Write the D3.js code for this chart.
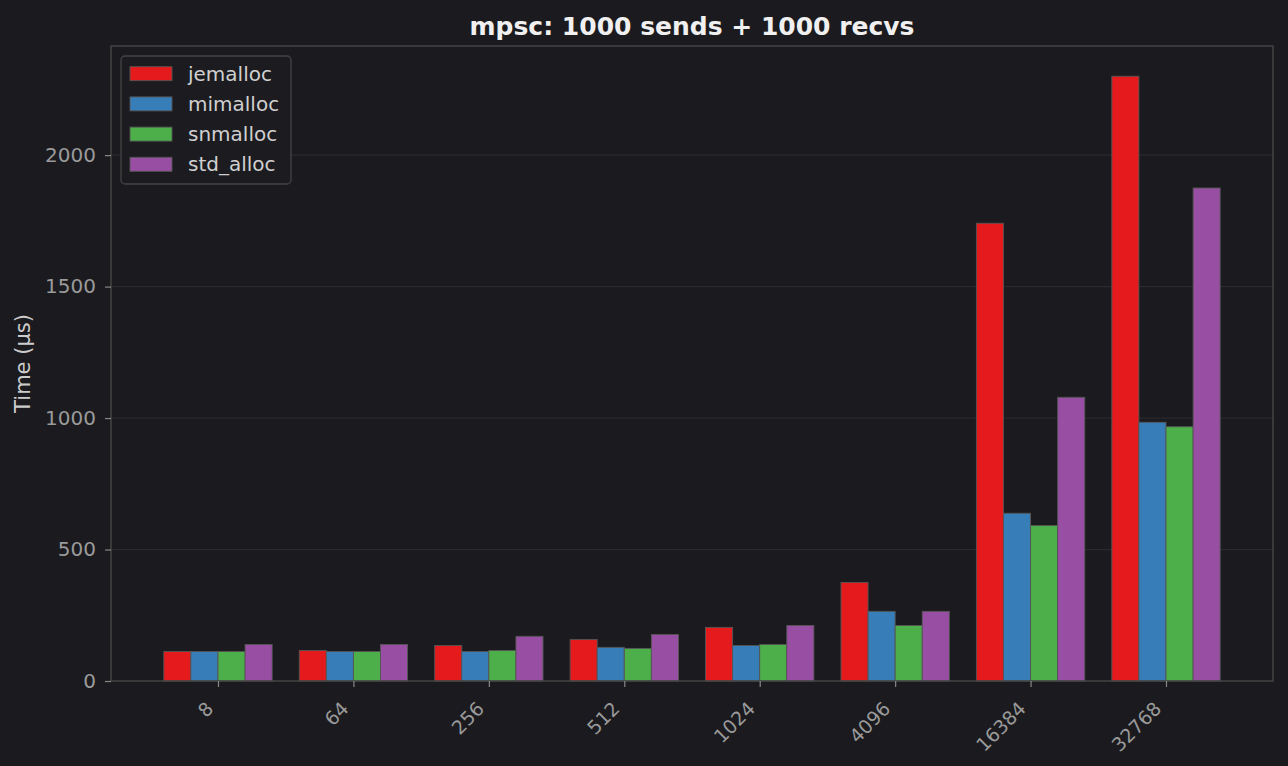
<!DOCTYPE html>
<html>
<head>
<meta charset="utf-8">
<script src="https://cdn.jsdelivr.net/npm/d3@7"></script>
<style>
  body { margin: 0; background: #1b1b1f; }
  text { font-family: "DejaVu Sans", sans-serif; }
</style>
</head>
<body>
<div id="chart"></div>
<script>
// message sizes (bytes) on the x axis
var sizes = ["8", "64", "256", "512", "1024", "4096", "16384", "32768"];
var allocators = ["jemalloc", "mimalloc", "snmalloc", "std_alloc"];
var colors = ["#e41a1c", "#377eb8", "#4daf4a", "#984ea3"];

// time in µs, one array per allocator
var jemalloc  = [112, 116, 135, 158, 204, 375, 1741, 2300];
var mimalloc  = [112, 112, 112, 128, 135, 265, 638, 984];
var snmalloc  = [112, 112, 116, 124, 139, 211, 591, 967];
var std_alloc = [139, 139, 170, 177, 211, 265, 1079, 1875];
var series = [jemalloc, mimalloc, snmalloc, std_alloc];

var yTicks = [0, 500, 1000, 1500, 2000];

var width = 1288, height = 766;
var margin = {top: 46, right: 15, bottom: 85, left: 111};
var plotW = width - margin.left - margin.right,
    plotH = height - margin.top - margin.bottom;

var svg = d3.select("#chart").append("svg")
    .attr("width", width)
    .attr("height", height);

svg.append("rect").attr("width", width).attr("height", height).attr("fill", "#1b1b1f");

var g = svg.append("g")
    .attr("transform", "translate(" + margin.left + "," + margin.top + ")");

// matplotlib style: bars at integer positions, 0.2 wide each, 5% margins
var x = d3.scaleLinear().domain([-0.79, 7.79]).range([0, plotW]);
var maxVal = d3.max(series, s => d3.max(s));
var y = d3.scaleLinear().domain([0, maxVal * 1.05]).range([plotH, 0]);
var barW = 0.2;

// grid
g.append("g").selectAll("line")
    .data(yTicks.slice(1))
    .enter().append("line")
    .attr("x1", 0).attr("x2", plotW)
    .attr("y1", d => y(d)).attr("y2", d => y(d))
    .attr("stroke", "#2a2a2e")
    .attr("stroke-width", 1.2);

// bars
series.forEach((vals, si) => {
    g.append("g").selectAll("rect")
        .data(vals)
        .enter().append("rect")
        .attr("x", (d, i) => x(i + (si - 2) * barW))
        .attr("width", x(barW) - x(0))
        .attr("y", d => y(d))
        .attr("height", d => y(0) - y(d))
        .attr("fill", colors[si])
        .attr("stroke", "#555")
        .attr("stroke-width", 0.9);
});

// frame
g.append("rect")
    .attr("width", plotW).attr("height", plotH)
    .attr("fill", "none")
    .attr("stroke", "#444")
    .attr("stroke-width", 1.5);

// y axis
var yAxis = g.append("g")
    .call(d3.axisLeft(y).tickValues(yTicks).tickFormat(d3.format("d"))
        .tickSize(6).tickPadding(9));
yAxis.select(".domain").remove();
yAxis.selectAll(".tick line").attr("stroke", "#888").attr("stroke-width", 1.2);
yAxis.selectAll(".tick text")
    .attr("fill", "#9a9a9a")
    .style("font-size", "20px")
    .style("font-family", "DejaVu Sans");

// x axis
var xAxis = g.append("g")
    .attr("transform", "translate(0," + plotH + ")")
    .call(d3.axisBottom(x).tickValues(d3.range(sizes.length))
        .tickFormat(i => sizes[i]).tickSize(6));
xAxis.select(".domain").remove();
xAxis.selectAll(".tick line").attr("stroke", "#888").attr("stroke-width", 1.2);
xAxis.selectAll(".tick text")
    .attr("fill", "#9a9a9a")
    .style("font-size", "19px")
    .style("font-family", "DejaVu Sans")
    .attr("text-anchor", "end")
    .attr("dy", null)
    .attr("y", 0)
    .attr("transform", "translate(-4,29) rotate(-45)");

// y label
svg.append("text")
    .attr("transform", "translate(30," + (margin.top + plotH / 2) + ") rotate(-90)")
    .attr("text-anchor", "middle")
    .attr("fill", "#cccccc")
    .style("font-size", "21px")
    .text("Time (µs)");

// title
svg.append("text")
    .attr("x", margin.left + plotW / 2)
    .attr("y", 35)
    .attr("text-anchor", "middle")
    .attr("fill", "#f0f0f0")
    .style("font-size", "25px")
    .style("font-weight", "bold")
    .text("mpsc: 1000 sends + 1000 recvs");

// legend
var legend = svg.append("g").attr("transform", "translate(121,56)");
legend.append("rect")
    .attr("width", 170).attr("height", 128)
    .attr("rx", 4)
    .attr("fill", "#1c1c20")
    .attr("stroke", "#444")
    .attr("stroke-width", 1.3);
var item = legend.selectAll(".item")
    .data(allocators)
    .enter().append("g")
    .attr("transform", (d, i) => "translate(0," + (17.7 + i * 30.2) + ")");
item.append("rect")
    .attr("x", 9).attr("y", -7)
    .attr("width", 42).attr("height", 14)
    .attr("fill", (d, i) => colors[i])
    .attr("stroke", "#555")
    .attr("stroke-width", 0.9);
item.append("text")
    .attr("x", 67).attr("y", 0)
    .attr("dy", "0.35em")
    .attr("fill", "#d0d0d0")
    .style("font-size", "20px")
    .text(d => d);
</script>
</body>
</html>
